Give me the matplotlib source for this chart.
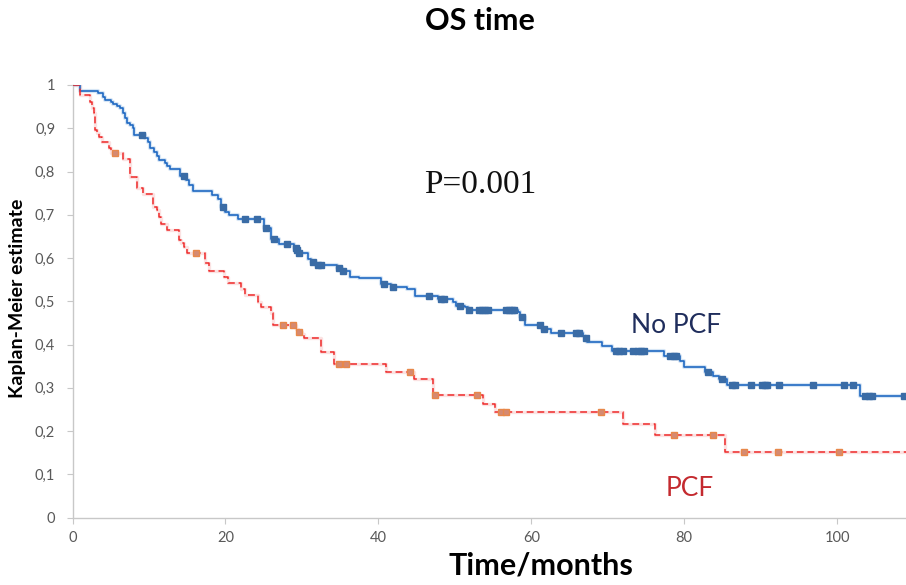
import numpy as np
import matplotlib.pyplot as plt
from matplotlib.ticker import FuncFormatter

# Kaplan-Meier steps: time of each drop (months) and survival after it
no_pcf_t = [0, 1.0, 3.4, 4.0, 4.3, 5.0, 5.3, 5.8, 6.2, 6.6, 6.9, 7.1, 7.5, 7.9, 8.1,
            9.5, 9.9, 10.2, 10.7, 11.0, 11.3, 12.1, 12.4, 12.8, 14.1, 14.9, 15.3, 15.7,
            18.2, 19.0, 19.4, 20.0, 20.5, 21.6, 25.0, 26.0, 27.0, 29.0, 29.3, 29.5,
            30.8, 31.2, 31.8, 34.6, 35.2, 36.3, 37.5, 40.4, 41.6, 43.7, 44.8, 47.8,
            49.7, 50.1, 51.3, 51.7, 58.2, 58.5, 59.2, 61.4, 62.6, 66.7, 67.0, 67.3,
            69.3, 70.6, 77.4, 79.4, 80.0, 82.7, 83.8, 84.5, 85.6, 103.0]
no_pcf_s = [1.0, 0.986, 0.981, 0.973, 0.965, 0.960, 0.955, 0.951, 0.946, 0.935, 0.924,
            0.913, 0.908, 0.900, 0.884, 0.877, 0.869, 0.854, 0.846, 0.836, 0.827, 0.819,
            0.813, 0.807, 0.790, 0.780, 0.769, 0.755, 0.746, 0.737, 0.719, 0.707, 0.700,
            0.690, 0.670, 0.645, 0.632, 0.624, 0.619, 0.611, 0.597, 0.592, 0.585, 0.578,
            0.571, 0.557, 0.553, 0.540, 0.534, 0.529, 0.512, 0.505, 0.499, 0.490, 0.486,
            0.481, 0.476, 0.463, 0.446, 0.437, 0.428, 0.420, 0.415, 0.407, 0.397, 0.386,
            0.374, 0.361, 0.348, 0.336, 0.328, 0.320, 0.307, 0.282]
no_pcf_cens = [9.1, 14.6, 19.7, 22.6, 24.1, 25.3, 26.3, 28.0, 29.2, 29.4, 29.6, 31.4,
               32.1, 32.5, 34.9, 35.4, 40.7, 41.9, 46.6, 48.2, 48.6, 50.7, 51.9, 53.2,
               53.6, 54.0, 54.3, 56.7, 57.1, 57.5, 57.8, 58.8, 61.1, 61.6, 63.9, 65.9,
               66.3, 67.1, 71.1, 71.5, 72.0, 73.3, 73.9, 74.3, 74.8, 78.2, 78.6, 78.9,
               83.1, 84.9, 86.3, 86.6, 88.7, 90.2, 90.5, 90.8, 92.4, 96.9, 100.9, 102.1,
               103.7, 104.1, 104.6, 108.7]

pcf_t = [0, 1.0, 2.3, 2.6, 2.8, 2.9, 3.0, 3.2, 3.5, 3.8, 4.8, 5.1, 6.6, 7.5, 8.5, 9.2,
         10.5, 11.0, 11.3, 11.6, 12.4, 13.9, 14.2, 14.6, 15.0, 17.3, 17.9, 19.8, 20.3,
         22.0, 22.5, 24.2, 24.6, 25.9, 26.2, 29.2, 29.5, 30.0, 30.3, 32.5, 34.2, 41.0,
         44.6, 47.1, 53.7, 55.3, 72.0, 76.2, 85.3]
pcf_s = [1.0, 0.977, 0.961, 0.946, 0.935, 0.919, 0.896, 0.890, 0.880, 0.869, 0.854,
         0.842, 0.828, 0.788, 0.761, 0.748, 0.719, 0.711, 0.696, 0.679, 0.665, 0.642,
         0.634, 0.626, 0.612, 0.588, 0.571, 0.556, 0.543, 0.528, 0.515, 0.499, 0.486,
         0.472, 0.445, 0.435, 0.430, 0.424, 0.415, 0.384, 0.355, 0.337, 0.320, 0.284,
         0.263, 0.244, 0.217, 0.190, 0.152]
pcf_cens = [5.6, 16.2, 27.5, 28.8, 29.6, 34.8, 35.8, 44.2, 47.4, 52.9, 56.1, 56.7, 69.1,
            78.6, 83.7, 87.8, 92.2, 100.2]

x_max = 109
x_ticks = [0, 20, 40, 60, 80, 100]
y_ticks = np.arange(0, 1.01, 0.1)


def km_line(times, surv):
    # extend the last level to the right edge of the plot
    return np.append(times, x_max), np.append(surv, surv[-1])


def km_at(times, surv, t):
    idx = np.searchsorted(times, t, side='right') - 1
    return np.asarray(surv)[idx]


def comma_fmt(v, pos):
    if abs(v) < 1e-9 or abs(v - 1) < 1e-9:
        return f'{int(round(v))}'
    return f'{v:.1f}'.replace('.', ',')


fig = plt.figure(figsize=(9.06, 5.85), dpi=100)
ax = fig.add_axes([72.5 / 906, 1 - 517.7 / 585, (906 - 72.5) / 906, (517.7 - 85) / 585])

# No PCF: solid blue with a soft glow
bx, by = km_line(no_pcf_t, no_pcf_s)
ax.step(bx, by, where='post', color='#a8c8ea', lw=3.0, alpha=0.45, zorder=2)
ax.step(bx, by, where='post', color='#1f68c2', lw=1.2, zorder=3)
ax.plot(no_pcf_cens, km_at(no_pcf_t, no_pcf_s, no_pcf_cens), 's', ms=4.6,
        color='#3a6ca6', mec='#3a6ca6', zorder=4, clip_on=False)

# PCF: dashed red
rx, ry = km_line(pcf_t, pcf_s)
ax.step(rx, ry, where='post', color='#f4a0a0', lw=2.4, alpha=0.3, zorder=2)
ax.step(rx, ry, where='post', color='#ee2b2b', lw=1.1, ls=(0, (4.5, 2.5)), zorder=3)
ax.plot(pcf_cens, km_at(pcf_t, pcf_s, pcf_cens), 's', ms=4.4,
        mfc='#d58a72', mec='#e8884a', mew=1.0, zorder=4)

ax.set_xlim(0, x_max)
ax.set_ylim(0, 1)
ax.set_xticks(x_ticks)
ax.set_yticks(y_ticks)
ax.yaxis.set_major_formatter(FuncFormatter(comma_fmt))

for side in ['top', 'right']:
    ax.spines[side].set_visible(False)
for side in ['left', 'bottom']:
    ax.spines[side].set_color('#c8c8c8')
    ax.spines[side].set_linewidth(1.0)
ax.tick_params(axis='both', colors='#c8c8c8', labelcolor='#595959', length=4.5,
               labelsize=10.5)
ax.tick_params(axis='y', pad=8)
ax.tick_params(axis='x', pad=5)
for lab in ax.get_xticklabels() + ax.get_yticklabels():
    lab.set_family('Lato')

ax.text(46, 0.769, 'P=0.001', family='Liberation Serif', fontsize=24, va='center',
        color='#111111')
ax.text(73.1, 0.445, 'No PCF', family='Lato', fontsize=19, va='center', color='#1f2d5c')
ax.text(77.6, 0.068, 'PCF', family='Lato', fontsize=19, va='center', color='#c42a2f')

fig.text(480 / 906, 1 - 21 / 585, 'OS time', family='Lato', fontweight='bold',
         fontsize=22, ha='center', va='center')
fig.text(541 / 906, 1 - 566 / 585, 'Time/months', family='Lato', fontweight='bold',
         fontsize=22, ha='center', va='center')
fig.text(18 / 906, 1 - 298 / 585, 'Kaplan-Meier estimate', family='Lato',
         fontweight='bold', fontsize=14, rotation=90, ha='center', va='center')

fig.savefig('out.png', dpi=100)
